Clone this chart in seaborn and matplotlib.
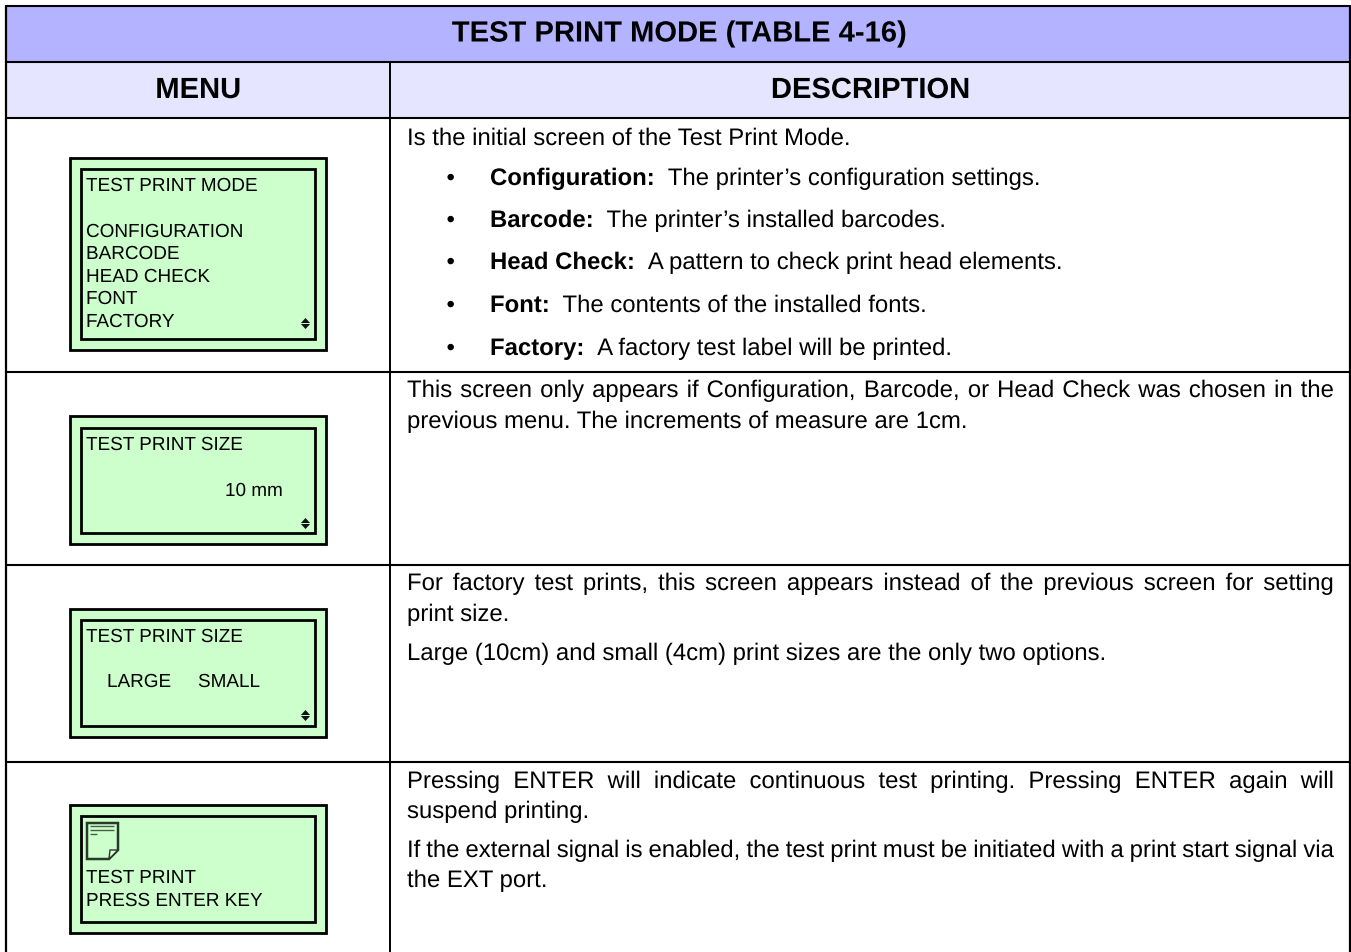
import matplotlib
matplotlib.use('Agg')
import matplotlib.pyplot as plt
import matplotlib.patheffects as pe
from matplotlib.patches import Rectangle, Polygon
import seaborn as sns

sns.set_theme(style='white', rc={'axes.linewidth': 0})
plt.rcParams['font.family'] = ['Liberation Sans', 'DejaVu Sans']
plt.rcParams['text.hinting'] = 'no_hinting'
plt.rcParams['text.hinting_factor'] = 1

# table text
title = "TEST PRINT MODE (TABLE 4-16)"
headers = ["MENU", "DESCRIPTION"]
lcd_lines = [
    ["TEST PRINT MODE", "CONFIGURATION", "BARCODE", "HEAD CHECK", "FONT", "FACTORY"],
    ["TEST PRINT SIZE", "10 mm"],
    ["TEST PRINT SIZE", "LARGE", "SMALL"],
    ["TEST PRINT", "PRESS ENTER KEY"],
]
intro = "Is the initial screen of the Test Print Mode."
bullet_names = ["Configuration:", "Barcode:", "Head Check:", "Font:", "Factory:"]
bullet_texts = ["The printer\u2019s configuration settings.",
                "The printer\u2019s installed barcodes.",
                "A pattern to check print head elements.",
                "The contents of the installed fonts.",
                "A factory test label will be printed."]
row2_text = ["This screen only appears if Configuration, Barcode, or Head Check was chosen in the",
             "previous menu. The increments of measure are 1cm."]
row3_text = ["For factory test prints, this screen appears instead of the previous screen for setting",
             "print size.",
             "Large (10cm) and small (4cm) print sizes are the only two options."]
row4_text = ["Pressing ENTER will indicate continuous test printing. Pressing ENTER again will",
             "suspend printing.",
             "If the external signal is enabled, the test print must be initiated with a print start signal via",
             "the EXT port."]

# layout, in pixels of the reference
W, H = 1351, 952
LEFT, RIGHT, TOP, DIV = 6, 1350, 6, 390
TXT_L, TXT_R = 407, 1334
BODY = 17.22
LCD = 13.62
HEAD = 21.0
ARROW_UP = [(-1, 0.55), (1, 0.55), (0, -0.55)]
ARROW_DOWN = [(-1, -0.55), (1, -0.55), (0, 0.55)]

fig = plt.figure(figsize=(W / 100, H / 100), dpi=100)
ax = fig.add_axes([0, 0, 1, 1])
ax.set_xlim(0, W)
ax.set_ylim(H, 0)
ax.axis('off')
sns.despine(ax=ax, left=True, bottom=True)
renderer = fig.canvas.get_renderer()


def text_w(s, **kw):
    t = ax.text(0, 0, s, fontsize=kw.get('fontsize', BODY), fontweight=kw.get('fontweight', 'normal'))
    w = t.get_window_extent(renderer).width
    t.remove()
    return w


def put(x, y, s, size=BODY, **kw):
    # drawn as paths so words on one line keep the same baseline
    ax.text(x, y, s, fontsize=size, color='#000000', va='baseline',
            path_effects=[pe.Normal()], **kw)


def justified(y, s):
    words = s.split(' ')
    widths = [text_w(w) for w in words]
    gap = (TXT_R - TXT_L - sum(widths)) / (len(words) - 1)
    x = TXT_L
    for w, wd in zip(words, widths):
        put(x, y, w)
        x += wd + gap


def lcd_box(y0, y1, y2, y3, arrow_y=None):
    ax.add_patch(Rectangle((70, y0), 255.5, y3 - y0, fc='#CCFFCC', ec='#000000', lw=2.0))
    ax.add_patch(Rectangle((81, y1), 234, y2 - y1, fc='none', ec='#000000', lw=2.0))
    if arrow_y is not None:
        # y axis is inverted, marker shapes are not
        ax.plot([304.5], [arrow_y - 3], marker=ARROW_DOWN, ms=6.6, color='#111111', mew=0)
        ax.plot([304.5], [arrow_y + 3], marker=ARROW_UP, ms=6.6, color='#111111', mew=0)


# bands
ax.add_patch(Rectangle((LEFT, TOP), RIGHT - LEFT, 56, fc='#B3B3FF', ec='none'))
ax.add_patch(Rectangle((LEFT, 62), RIGHT - LEFT, 56, fc='#E5E5FF', ec='none'))

# grid
ax.hlines([6, 62, 118, 372, 565, 762], LEFT, RIGHT, color='#000000', lw=1.5)
ax.vlines([LEFT, RIGHT], 5, H, color='#000000', lw=1.6)
ax.vlines(DIV, 62, H, color='#000000', lw=1.4)

# headers
put((LEFT + RIGHT) / 2, 41.5, title, size=HEAD, fontweight='bold', ha='center')
put(198, 98, headers[0], size=HEAD, fontweight='bold', ha='center')
put(870, 98, headers[1], size=HEAD, fontweight='bold', ha='center')

# lcd screens
lcd_box(158, 169, 339, 350, 323)
lcd_box(416, 428, 533, 544, 523)
lcd_box(609, 620, 726, 737, 715)
lcd_box(805, 816, 922, 933)

for y, s in zip([191, 237, 259, 282, 304, 327], lcd_lines[0]):
    put(86, y, s, size=LCD)
put(86, 450, lcd_lines[1][0], size=LCD)
put(225, 496, lcd_lines[1][1], size=LCD)
put(86, 642, lcd_lines[2][0], size=LCD)
put(107, 687, lcd_lines[2][1], size=LCD)
put(198, 687, lcd_lines[2][2], size=LCD)
put(86, 883, lcd_lines[3][0], size=LCD)
put(86, 906, lcd_lines[3][1], size=LCD)

# page icon in the last screen
ax.add_patch(Polygon([(87, 823), (118, 823), (118, 850), (109, 859), (87, 859)],
                     closed=True, fc='#CCFFCC', ec='#2A3A2A', lw=1.8))
ax.add_patch(Polygon([(118, 850), (110, 850), (109, 859)], closed=True, fc='#E8FFE8', ec='#2A3A2A', lw=1.0))
ax.hlines([826, 830], 90, 114, color='#4A5F4A', lw=1.0)
ax.hlines(834, 90, 97, color='#4A5F4A', lw=1.0)

# description column
put(TXT_L, 145, intro)
for y, name, desc in zip([185, 227, 269, 312, 355], bullet_names, bullet_texts):
    put(446.5, y, '\u2022')
    put(490, y, name, fontweight='bold')
    put(490 + text_w(name, fontweight='bold') + 12.5, y, desc)

justified(397, row2_text[0])
put(TXT_L, 428, row2_text[1])
justified(590, row3_text[0])
put(TXT_L, 621, row3_text[1])
put(TXT_L, 660, row3_text[2])
justified(788, row4_text[0])
put(TXT_L, 818, row4_text[1])
justified(857, row4_text[2])
put(TXT_L, 887, row4_text[3])

fig.savefig('out.png', dpi=100)
